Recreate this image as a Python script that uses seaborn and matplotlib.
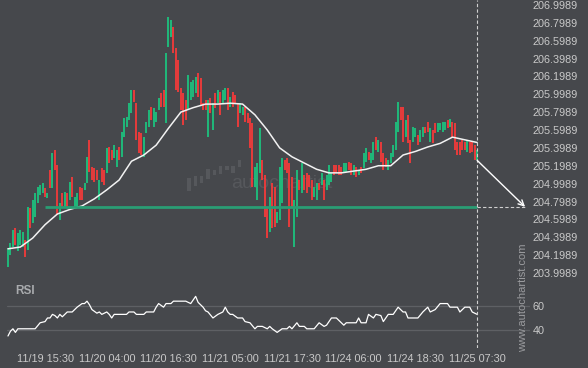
import matplotlib
matplotlib.use('Agg')
import numpy as np
import pandas as pd
import matplotlib.pyplot as plt
import seaborn as sns

# 30 min candles, 11/19 08:00 .. 11/25 07:30 (weekend skipped)
opens = [
    204.07, 204.20, 204.29, 204.50, 204.24, 204.31, 204.29, 204.37, 204.26, 204.73,
    204.56, 204.63, 204.78, 204.87, 204.90, 204.95, 204.84, 205.15, 204.95, 205.38,
    205.21, 204.59, 204.90, 204.73, 204.90, 204.82, 205.07, 204.74, 204.74, 204.96,
    204.95, 204.93, 205.01, 205.49, 205.19, 205.18, 205.15, 204.82, 205.18, 205.15,
    205.12, 205.41, 205.38, 205.29, 205.19, 205.41, 205.30, 205.52, 205.63, 205.71,
    205.79, 206.05, 205.90, 205.58, 205.57, 205.30, 205.57, 205.63, 205.86, 205.63,
    205.69, 205.82, 206.01, 206.05, 205.68, 206.53, 206.64, 206.75, 206.52, 206.38,
    206.07, 206.01, 205.94, 205.82, 205.94, 205.97, 206.01, 206.24, 206.18, 205.90,
    205.94, 205.52, 205.96, 205.60, 206.01, 205.90, 206.03, 205.90, 205.94, 206.07,
    205.86, 206.03, 205.99, 205.90, 205.79, 205.77, 205.86, 205.79, 205.73, 205.68,
    204.96, 204.82, 205.12, 205.26, 205.10, 204.74, 204.46, 205.01, 204.96, 204.56,
    204.59, 204.78, 205.26, 205.29, 205.23, 205.07, 204.29, 204.63, 205.04, 204.90,
    205.10, 205.12, 205.10, 205.04, 204.85, 204.82, 205.01, 204.98, 205.04, 204.93,
    204.98, 205.02, 205.21, 205.21, 205.21, 205.19, 205.12, 205.13, 205.24, 205.23,
    205.10, 205.19, 205.10, 205.19, 205.18, 205.24, 205.35, 205.23, 205.26, 205.52,
    205.35, 205.47, 205.34, 205.29, 205.15, 205.23, 205.30, 205.38, 205.58, 205.86,
    205.86, 205.52, 205.77, 205.49, 205.47, 205.52, 205.54, 205.47, 205.52, 205.63,
    205.69, 205.47, 205.60, 205.68, 205.58, 205.60, 205.58, 205.60, 205.71, 205.63,
    205.69, 205.68, 205.47, 205.47, 205.49, 205.47, 205.35, 205.46, 205.47, 205.43,
    205.26,
]
closes = [
    204.28, 204.34, 204.48, 204.31, 204.45, 204.48, 204.46, 204.18, 204.74, 204.50,
    204.82, 204.90, 204.96, 204.98, 205.01, 204.85, 204.90, 204.95, 205.34, 205.15,
    204.65, 204.78, 204.73, 204.91, 204.74, 205.02, 204.85, 204.85, 204.90, 204.82,
    204.82, 205.01, 205.30, 205.13, 205.04, 205.02, 205.04, 205.04, 205.02, 204.98,
    205.40, 205.23, 205.26, 205.43, 205.38, 205.26, 205.58, 205.73, 205.75, 205.90,
    206.05, 205.91, 205.49, 205.34, 205.32, 205.52, 205.69, 205.82, 205.71, 205.85,
    205.80, 205.96, 205.86, 205.86, 206.46, 206.87, 206.83, 206.46, 206.05, 206.03,
    205.82, 205.66, 205.71, 206.22, 206.14, 206.16, 206.19, 205.97, 205.88, 205.82,
    205.82, 205.94, 205.79, 205.90, 205.85, 206.05, 205.77, 206.05, 206.07, 205.82,
    205.97, 205.86, 205.90, 205.63, 205.90, 205.86, 205.69, 205.68, 205.40, 204.96,
    205.19, 205.23, 205.62, 205.04, 204.63, 204.39, 204.85, 204.50, 204.51, 204.68,
    205.19, 205.29, 205.15, 205.12, 204.51, 204.74, 204.82, 205.15, 204.93, 205.23,
    204.93, 204.90, 204.96, 204.82, 204.96, 205.01, 204.93, 205.12, 204.82, 205.10,
    205.21, 205.12, 205.10, 205.12, 205.10, 205.10, 205.23, 205.23, 205.15, 205.10,
    205.21, 205.07, 205.15, 205.12, 205.34, 205.40, 205.26, 205.34, 205.47, 205.38,
    205.49, 205.24, 205.15, 205.19, 205.26, 205.34, 205.43, 205.69, 205.91, 205.71,
    205.47, 205.71, 205.45, 205.23, 205.63, 205.62, 205.43, 205.60, 205.63, 205.57,
    205.58, 205.62, 205.45, 205.57, 205.68, 205.68, 205.69, 205.69, 205.62, 205.72,
    205.52, 205.38, 205.32, 205.32, 205.38, 205.38, 205.49, 205.34, 205.35, 205.26,
    205.38,
]

# moving average, read every 5 bars
ma_idx = list(range(0, 191, 5))
ma_val = [204.27, 204.29, 204.39, 204.54, 204.66, 204.71, 204.75, 204.83, 204.93, 205.04,
          205.25, 205.32, 205.43, 205.62, 205.80, 205.85, 205.89, 205.89, 205.90, 205.89,
          205.77, 205.60, 205.40, 205.30, 205.23, 205.16, 205.12, 205.12, 205.14, 205.16,
          205.20, 205.20, 205.32, 205.36, 205.41, 205.45, 205.52, 205.49, 205.46]

rsi_idx = [0, 1, 2, 3, 4, 11, 13, 15, 16, 17, 18, 19, 20, 21, 22, 23, 24, 26, 28, 30,
           31, 32, 33, 34, 36, 37, 38, 40, 41, 42, 43, 48, 49, 51, 52, 55, 56, 59, 60, 61,
           63, 64, 66, 67, 72, 74, 76, 77, 79, 80, 81, 83, 85, 87, 88, 89, 90, 91, 93, 95,
           96, 98, 100, 101, 103, 105, 106, 107, 109, 111, 113, 114, 115, 117, 118, 120, 121, 124, 126, 128,
           129, 131, 133, 136, 137, 141, 142, 143, 145, 146, 148, 149, 151, 152, 154, 156, 158, 160, 161, 162,
           166, 168, 170, 171, 173, 175, 178, 179, 182, 183, 185, 187, 188, 190]
rsi_val = [35, 39, 41, 38, 41, 41, 46, 47, 50, 50, 53, 52, 50, 53, 51, 53, 55, 55, 59, 62,
           62, 64, 61, 57, 54, 55, 53, 55, 53, 50, 53, 53, 55, 55, 53, 53, 55, 55, 59, 62,
           59, 62, 62, 64, 64, 62, 68, 63, 59, 56, 55, 50, 53, 55, 59, 55, 53, 53, 50, 50,
           47, 46, 41, 43, 43, 41, 43, 41, 38, 41, 41, 43, 41, 46, 43, 43, 41, 41, 46, 43,
           44, 50, 50, 44, 46, 46, 50, 46, 46, 53, 50, 53, 52, 47, 53, 53, 59, 55, 55, 50,
           50, 55, 59, 55, 57, 62, 62, 59, 59, 55, 59, 59, 55, 53]

time_idx = [15, 40, 65, 90, 115, 140, 165, 190]
time_labels = ['11/19 15:30', '11/20 04:00', '11/20 16:30', '11/21 05:00',
               '11/21 17:30', '11/24 06:00', '11/24 18:30', '11/25 07:30']
price_ticks = np.arange(203.9989, 207.0, 0.2)
rsi_ticks = [40, 60]

level = 204.74          # support level
level_start = 15
arrow_from = 205.26
forecast_bars = 19.4

logo_h = [13, 10, 7, 10, 5, 8, 4, 7, 8]
logo_b = [0, 5, 8, 12, 16, 17, 21, 18, 24]

BG = '#46484c'
GREEN = '#1dc27e'
RED = '#f43a3a'
TXT = '#c9c9c9'
LOGO = '#56585c'

sns.set_theme(style='dark', rc={'axes.facecolor': BG, 'figure.facecolor': BG})
plt.rcParams['font.family'] = ['Liberation Sans', 'DejaVu Sans']

fig = plt.figure(figsize=(5.88, 3.68), dpi=100)
W, H = 588, 368

# faint watermark logo, behind everything
lg = fig.add_axes([186 / W, 1 - 195 / H, 160 / W, 35 / H], zorder=-1)
lg.bar(range(len(logo_h)), logo_h, bottom=logo_b, width=0.55, color=LOGO,
       edgecolor='none', linewidth=0)
lg.text(14.7, 7, 'autochartist', color=LOGO, fontsize=14, ha='center', va='center')
lg.set_xlim(-0.5, 25)
lg.set_ylim(-4, 31)
lg.axis('off')

ax = fig.add_axes([7 / W, 1 - 290 / H, 523 / W, 290 / H])
ax2 = fig.add_axes([7 / W, 1 - 348 / H, 523 / W, 58 / H])
ax.patch.set_alpha(0)
ax2.patch.set_alpha(0)

n = len(opens)
x = np.arange(n)
df = pd.DataFrame({'open': opens, 'close': closes})
up = df['close'] >= df['open']
cols = np.where(up, GREEN, RED)
ax.vlines(x, df[['open', 'close']].min(axis=1), df[['open', 'close']].max(axis=1),
          colors=cols, linewidth=1.3)

sns.lineplot(x=ma_idx, y=ma_val, ax=ax, color='#f2f2f2', linewidth=1.1)

ax.hlines(level, level_start, n - 1, color='#2a9d74', linewidth=2.0)
ax.hlines(level, n - 1, n - 1 + forecast_bars + 0.4, color='#d0d0d0',
          linewidth=0.8, linestyles=(0, (3, 2)))
ax.annotate('', xy=(n - 1 + forecast_bars, level), xytext=(n - 1, arrow_from),
            arrowprops=dict(arrowstyle='->', color='white', lw=1.0,
                            shrinkA=0, shrinkB=0, mutation_scale=10))

sns.lineplot(x=rsi_idx, y=rsi_val, ax=ax2, color='white', linewidth=0.9)
for v in rsi_ticks:
    ax2.axhline(v, color='#5e6064', linewidth=0.9, zorder=0)

for a in (ax, ax2):
    a.axvline(n - 1, color='#d0d0d0', linewidth=0.8, linestyle=(0, (3, 2)))
    a.set_xlim(-0.4, 211.4)
    a.grid(False)
    for s in a.spines.values():
        s.set_visible(False)
    a.yaxis.tick_right()
    a.tick_params(axis='both', length=0, colors=TXT, labelsize=7.8, pad=2)
    a.set_xlabel('')
    a.set_ylabel('')

ax.set_ylim(203.809, 207.055)
ax.set_yticks(price_ticks)
ax.set_yticklabels([f'{t:.4f}' for t in price_ticks])
ax.set_xticks([])

ax2.set_ylim(25, 73.3)
ax2.set_yticks(rsi_ticks)
ax2.set_xticks(time_idx)
ax2.set_xticklabels(time_labels)
ax2.tick_params(axis='x', pad=4)

fig.text(15 / W, 1 - 291 / H, 'RSI', color='#a9abae', fontsize=8.5,
         fontweight='bold', va='center', ha='left')
fig.text(523 / W, 1 - 298 / H, 'www.autochartist.com', color='#9a9b9e',
         fontsize=8, rotation=90, ha='center', va='center')

fig.savefig('out.png', dpi=100, facecolor=BG)
